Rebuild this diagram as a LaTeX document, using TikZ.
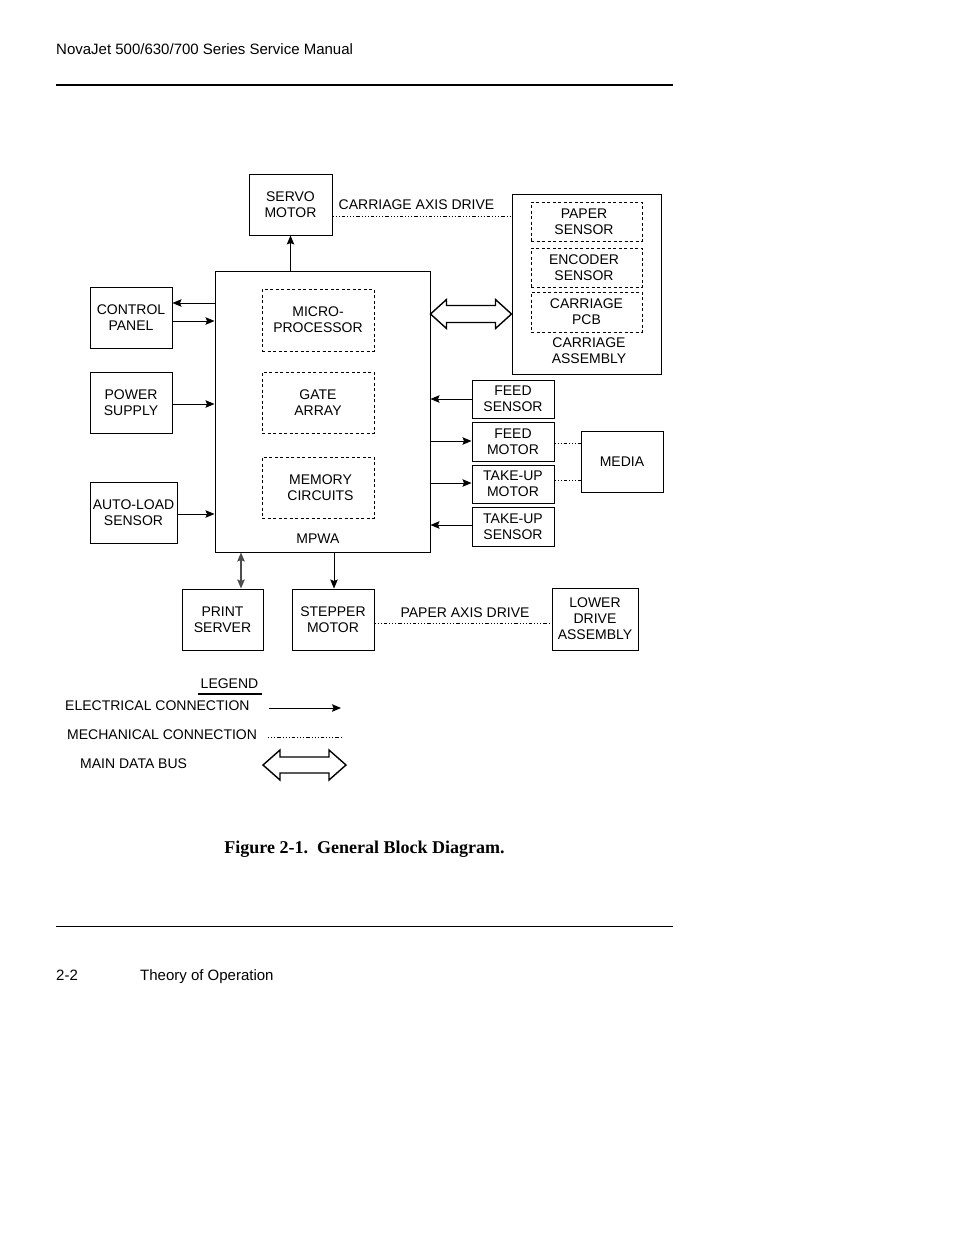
\documentclass[tikz,border=0pt]{standalone}
\usepackage{fontspec}
\setmainfont{Liberation Sans}
\newfontfamily\capfont{Liberation Serif}
\usetikzlibrary{arrows.meta,calc}
\begin{document}
\begin{tikzpicture}[x=1pt,y=-1pt,
  lbl/.style={font=\fontsize{14}{16}\selectfont, align=center, inner sep=0pt},
  box/.style={draw, line width=1pt, lbl},
  dbox/.style={draw, line width=0.9pt, dash pattern=on 3pt off 2.5pt, lbl},
  elec/.style={line width=0.9pt, -{Stealth[length=9pt,width=7.5pt,inset=1.5pt]}},
  elecb/.style={line width=1.4pt, draw=black!70, {Stealth[length=9pt,width=7.5pt,inset=1.5pt]}-{Stealth[length=9pt,width=7.5pt,inset=1.5pt]}},
  mech/.style={line width=0.9pt, dash pattern=on 1pt off 2pt on 1pt off 2pt on 1pt off 2pt on 3.5pt off 2pt},
  bus/.style={line width=1.4pt, draw=black, fill=white, line join=miter}
]
\useasboundingbox (0,0) rectangle (954,1235);
\fill[white] (0,0) rectangle (954,1235);

% header and footer
\node[anchor=base west, inner sep=0pt, font=\fontsize{15}{18}\selectfont] (hdr) at (56,54) {NovaJet 500/630/700 Series Service Manual};
\coordinate (rt1) at (56,85); \coordinate (rt2) at (673,85);
\draw[line width=2pt] (rt1) -- (rt2);
\coordinate (rb1) at (56,926); \coordinate (rb2) at (673,926);
\draw[line width=1pt] (rb1) -- (rb2);
\node[anchor=base west, inner sep=0pt, font=\fontsize{15}{18}\selectfont] (pg) at (56,980) {2-2};
\node[anchor=base west, inner sep=0pt, font=\fontsize{15}{18}\selectfont] (sec) at (140,980) {Theory of Operation};
\node[anchor=base, inner sep=0pt, font=\capfont\bfseries\fontsize{18}{21}\selectfont] (cap) at (364.5,853) {Figure 2-1.\ \ General Block Diagram.};

% boxes
\node[box, minimum width=83pt, minimum height=61pt] (servo) at (290.5,204.5) {SERVO\\MOTOR};
\node[box, minimum width=149pt, minimum height=180pt] (carr) at (586.5,284) {};
\node[dbox, minimum width=111pt, minimum height=39pt] (paper) at (586.5,221.5) {\hspace*{-5pt}PAPER\\\hspace*{-5pt}SENSOR};
\node[dbox, minimum width=111pt, minimum height=39pt] (enc) at (586.5,267.5) {\hspace*{-5pt}ENCODER\\\hspace*{-5pt}SENSOR};
\node[dbox, minimum width=111pt, minimum height=40pt] (pcb) at (586.5,312) {CARRIAGE\\PCB};
\node[lbl] (carrlbl) at (589,350.5) {CARRIAGE\\ASSEMBLY};

\node[box, minimum width=215pt, minimum height=281pt] (mpwa) at (322.5,411.5) {};
\node[dbox, minimum width=112pt, minimum height=62pt] (micro) at (318,320) {MICRO-\\PROCESSOR};
\node[dbox, minimum width=112pt, minimum height=61pt] (gate) at (318,402.5) {GATE\\ARRAY};
\node[dbox, minimum width=112pt, minimum height=61pt] (mem) at (318,487.5) {\hspace*{5pt}MEMORY\\\hspace*{5pt}CIRCUITS};
\node[lbl] (mpwalbl) at (318,539) {MPWA};

\node[box, minimum width=82pt, minimum height=61pt] (ctrl) at (131,317.5) {CONTROL\\PANEL};
\node[box, minimum width=82pt, minimum height=61pt] (pwr) at (131,402.5) {POWER\\SUPPLY};
\node[box, minimum width=87pt, minimum height=61pt] (auto) at (133.5,512.5) {AUTO-LOAD\\SENSOR};

\node[box, minimum width=82pt, minimum height=38pt] (fs) at (513,399) {FEED\\SENSOR};
\node[box, minimum width=82pt, minimum height=39pt] (fm) at (513,441.5) {FEED\\MOTOR};
\node[box, minimum width=82pt, minimum height=38pt] (tm) at (513,484) {TAKE-UP\\MOTOR};
\node[box, minimum width=82pt, minimum height=39pt] (ts) at (513,526.5) {TAKE-UP\\SENSOR};
\node[box, minimum width=82pt, minimum height=61pt] (media) at (622,461.5) {MEDIA};

\node[box, minimum width=81pt, minimum height=61pt] (ps) at (222.5,619.5) {PRINT\\SERVER};
\node[box, minimum width=82pt, minimum height=61pt] (step) at (333,619.5) {STEPPER\\MOTOR};
\node[box, minimum width=86pt, minimum height=62pt] (lower) at (595,619) {LOWER\\DRIVE\\ASSEMBLY};

\node[lbl] (cad) at (416.5,205) {CARRIAGE AXIS DRIVE};
\node[lbl] (pad) at (465,613) {PAPER AXIS DRIVE};

% helper coordinates for connector heights
\coordinate (y303) at (0,303);
\coordinate (y321) at (0,321);
\coordinate (y404) at (0,404);
\coordinate (y514) at (0,514);
\coordinate (y216) at (0,216);
\coordinate (y399) at (0,399);
\coordinate (y441) at (0,441);
\coordinate (y483) at (0,483);
\coordinate (y525) at (0,525);
\coordinate (y443) at (0,443);
\coordinate (y480) at (0,480);
\coordinate (y623) at (0,623);
\coordinate (y314) at (0,314);

% electrical connections
\draw[elec] (mpwa.north -| servo.south) -- (servo.south);
\draw[elec] (mpwa.west |- y303) -- (ctrl.east |- y303);
\draw[elec] (ctrl.east |- y321) -- (mpwa.west |- y321);
\draw[elec] (pwr.east |- y404) -- (mpwa.west |- y404);
\draw[elec] (auto.east |- y514) -- (mpwa.west |- y514);
\draw[elec] (fs.west |- y399) -- (mpwa.east |- y399);
\draw[elec] (mpwa.east |- y441) -- (fm.west |- y441);
\draw[elec] (mpwa.east |- y483) -- (tm.west |- y483);
\draw[elec] (ts.west |- y525) -- (mpwa.east |- y525);
\coordinate (psx) at (241,0);
\coordinate (stx) at (334,0);
\draw[elecb] (mpwa.south -| psx) -- (ps.north -| psx);
\draw[elec] (mpwa.south -| stx) -- (step.north -| stx);

% mechanical connections
\draw[mech] (servo.east |- y216) -- (carr.west |- y216);
\draw[mech] (fm.east |- y443) -- (media.west |- y443);
\draw[mech] (tm.east |- y480) -- (media.west |- y480);
\draw[mech] (step.east |- y623) -- (lower.west |- y623);

% main data bus
\coordinate (busL) at (mpwa.east |- y314);
\coordinate (busR) at (carr.west |- y314);
\draw[bus] (busL) -- ++(16,-14.5) -- ++(0,6) -- ($(busR)+(-16,-8.5)$) -- ++(0,-6) -- (busR)
  -- ++(-16,14.5) -- ++(0,-6) -- ($(busL)+(16,8.5)$) -- ++(0,6) -- cycle;

% legend
\node[lbl] (leg) at (229.5,684) {LEGEND};
\coordinate (lu1) at (198,694); \coordinate (lu2) at (262,694);
\draw[line width=2pt] (lu1) -- (lu2);
\node[lbl, anchor=west] (le) at (65,706) {ELECTRICAL CONNECTION};
\coordinate (le1) at (269,708); \coordinate (le2) at (341,708);
\draw[elec] (le1) -- (le2);
\node[lbl, anchor=west] (lm) at (67,735) {MECHANICAL CONNECTION};
\coordinate (lm1) at (268,737); \coordinate (lm2) at (342,737);
\draw[mech] (lm1) -- (lm2);
\node[lbl, anchor=west] (lb) at (80,764) {MAIN DATA BUS};
\coordinate (lbL) at (263,765); \coordinate (lbR) at (346,765);
\draw[bus] (lbL) -- ++(17,-15) -- ++(0,7) -- ($(lbR)+(-17,-8)$) -- ++(0,-7) -- (lbR)
  -- ++(-17,15) -- ++(0,-7) -- ($(lbL)+(17,8)$) -- ++(0,7) -- cycle;
\end{tikzpicture}
\end{document}
